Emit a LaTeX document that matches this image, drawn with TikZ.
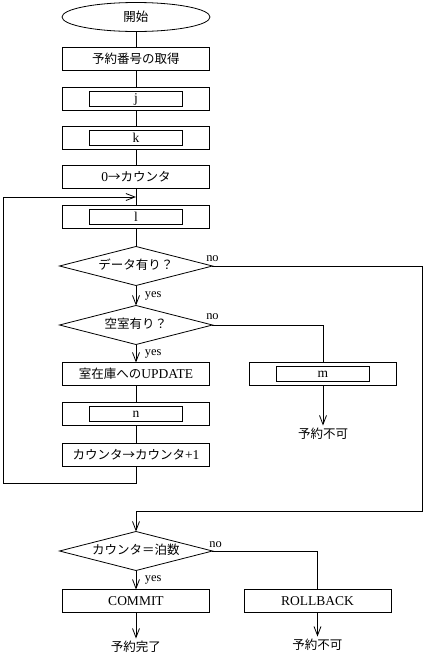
\documentclass[tikz,border=0pt]{standalone}
\usepackage{fontspec}
\setmainfont[Scale=1.08]{Liberation Serif}
\newfontfamily\jpfont{Noto Sans CJK JP}
\usepackage{tikz}
\usetikzlibrary{shapes.geometric,arrows.meta,positioning,calc}

\begin{document}
\begin{tikzpicture}[
  node distance=16pt,
  line width=0.8pt,
  every node/.style={font=\fontsize{12.5}{14}\selectfont, outer sep=0pt},
  terminal/.style={draw, ellipse, minimum width=148pt, minimum height=29pt, inner sep=0pt},
  proc/.style={draw, minimum width=147pt, minimum height=23pt, inner sep=0pt},
  subproc/.style={draw, minimum width=93pt, minimum height=15pt, inner sep=0pt},
  decision/.style={draw, diamond, aspect=3.9, minimum width=153pt,
    minimum height=39pt, inner sep=0pt, text height=9pt, text depth=3pt},
  endtext/.style={inner sep=2pt},
  branch/.style={font=\fontsize{11.5}{12}\selectfont, inner sep=1pt},
  flow/.style={-{Straight Barb[length=9pt,width=7pt]}}]
\useasboundingbox (-136pt,17pt) rectangle (306pt,-648pt);
\node[terminal] (start) {\jpfont 開始};
\node[proc, below=of start] (resv) {\jpfont 予約番号の取得};
\node[proc, below=17pt of resv] (j) {};
\node[subproc] (jin) at (j) {j};
\node[proc, below=of j] (k) {};
\node[subproc] (kin) at (k) {k};
\node[proc, below=of k] (init) {0{\jpfont →カウンタ}};
\node[proc, below=17pt of init] (l) {};
\node[subproc] (lin) at (l) {l};
\coordinate (loopin) at ($(init.south)!0.5!(l.north)$);
\node[decision, below=18pt of l] (data) {\jpfont データ有り？};
\node[decision, below=20pt of data] (room) {\jpfont 空室有り？};
\node[proc, below=18pt of room] (upd) {{\jpfont 室在庫への}UPDATE};
\node[proc, below=17pt of upd] (n) {};
\node[subproc] (nin) at (n) {n};
\node[proc, below=18pt of n] (inc) {{\jpfont カウンタ→カウンタ}+1};
\node[proc, right=40pt of upd] (m) {};
\node[subproc] (min) at (m) {m};
\node[endtext, below=40pt of m] (ngA) {\jpfont 予約不可};
\node[decision, below=65pt of inc] (cnt) {\jpfont カウンタ＝泊数};
\node[proc, below=19pt of cnt] (commit) {COMMIT};
\node[proc, right=34.5pt of commit] (rollback) {ROLLBACK};
\node[endtext, below=26pt of commit] (done) {\jpfont 予約完了};
\node[endtext, below=24pt of rollback] (ngB) {\jpfont 予約不可};
\foreach \src/\dst in {start/resv, resv/j, j/k, k/init, init/l, l/data, upd/n, n/inc}
  \draw (\src) -- (\dst);
\foreach \src/\dst in {m/ngA, commit/done, rollback/ngB}
  \draw[flow] (\src) -- (\dst);
\draw[flow] (data) -- node[branch, right=8pt] (yesA) {yes} (room);
\draw[flow] (room) -- node[branch, right=8pt] (yesB) {yes} (upd);
\draw[flow] (cnt) -- node[branch, right=8pt] (yesC) {yes} (commit);
\draw[flow] (inc.south) -- ++(0,-17pt) -- ++(-133pt,0) |- (loopin);
\draw[flow] (data.east) node[branch, above=3pt] (noA) {no}
  -- ++(210pt,0) |- ($(cnt.north)+(0,20pt)$) -- (cnt.north);
\draw (room.east) node[branch, above=4pt] (noB) {no} -| (m.north);
\draw (cnt.east) node[branch, above right=2pt and -4pt] (noC) {no} -| (rollback.north);
\end{tikzpicture}
\end{document}
